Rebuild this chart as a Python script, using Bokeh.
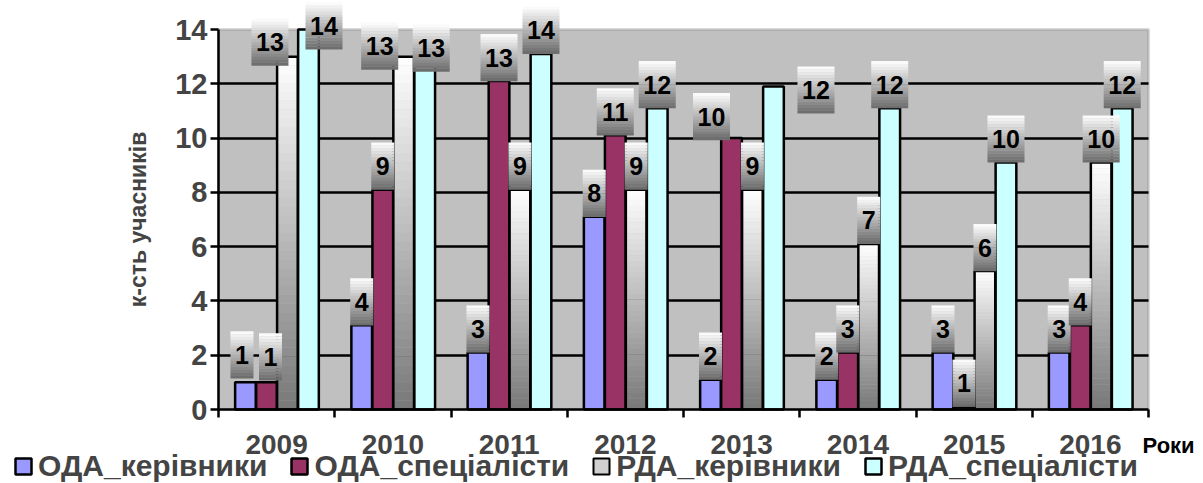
from bokeh.plotting import figure
from bokeh.models import Range1d, FixedTicker, Legend, LegendItem, BoxAnnotation, LinearAxis, Grid
from bokeh.core.properties import value
from bokeh.embed import file_html
from bokeh.resources import INLINE

years = ["2009", "2010", "2011", "2012", "2013", "2014", "2015", "2016"]
# bar heights as drawn
oda_kerivnyky = [1.0, 3.1, 2.1, 7.1, 1.1, 1.1, 2.1, 2.1]
oda_specialisty = [1.0, 8.1, 12.1, 10.1, 10.0, 2.1, 0.1, 3.1]
rda_kerivnyky = [13.0, 13.0, 8.1, 8.1, 8.1, 6.1, 5.1, 9.1]
rda_specialisty = [14.0, 13.0, 13.1, 11.1, 11.9, 11.1, 9.1, 11.1]
# data-label texts as shown
oda_kerivnyky_labels = [1, 4, 3, 8, 2, 2, 3, 3]
oda_specialisty_labels = [1, 9, 13, 11, 10, 3, 1, 4]
rda_kerivnyky_labels = [13, 13, 9, 9, 9, 7, 6, 10]
rda_specialisty_labels = [14, 13, 14, 12, 12, 12, 10, 12]
series_names = ["ОДА_керівники", "ОДА_спеціалісти", "РДА_керівники", "РДА_спеціалісти"]
y_ticks = [0, 2, 4, 6, 8, 10, 12, 14]
x_title = "Роки"
y_title = "к-сть учасників"

FONT = "Liberation Sans"
W, H = 1203, 483
n = len(years)
Y_MAX = y_ticks[-1]

# layout in canvas pixels
PX_LEFT, PX_RIGHT = 218, 1148      # x of category edges -0.5 and n-0.5
PX_TOP14, PX_ZERO = 29, 409        # y of Y_MAX and 0
PPX = (PX_RIGHT - PX_LEFT) / n
PPU = (PX_ZERO - PX_TOP14) / Y_MAX
x_start = -0.5 - PX_LEFT / PPX
x_end = n - 0.5 + (W - PX_RIGHT) / PPX
y_start = -(H - PX_ZERO) / PPU
y_end = Y_MAX + PX_TOP14 / PPU

series = [oda_kerivnyky, oda_specialisty, rda_kerivnyky, rda_specialisty]
series_labels = [oda_kerivnyky_labels, oda_specialisty_labels, rda_kerivnyky_labels, rda_specialisty_labels]
colors = ["#9999FF", "#993366", None, "#CCFFFF"]
offsets = [-0.268, -0.087, 0.093, 0.274]
BW = 0.178
# hand-moved data labels in the original: (series, year index) -> (dx, dy) screen px
label_shift = {(0, 0): (-3.5, -4), (1, 0): (4, -2), (2, 0): (-17.5, 9), (3, 0): (15.5, 20),
               (2, 1): (-24, 13), (3, 1): (6.5, 15), (1, 4): (-20, 2), (3, 4): (42.5, 27)}

p = figure(width=W, height=H, output_backend="svg", toolbar_location=None,
           x_range=Range1d(x_start, x_end), y_range=Range1d(y_start, y_end),
           min_border=0, x_axis_type=None, y_axis_type=None)
p.outline_line_color = None
p.background_fill_color = "white"
p.border_fill_color = "white"

# gray plot area
p.add_layout(BoxAnnotation(left=-0.5, right=n - 0.5, bottom=0, top=Y_MAX,
                           fill_color="#C0C0C0", fill_alpha=1,
                           line_color="#858585", line_width=3, level="image"))

# grid
gt = [t for t in y_ticks if 0 < t < Y_MAX]
if "cross_bounds" in Grid.properties():
    grid = Grid(dimension=1, ticker=FixedTicker(ticks=gt),
                grid_line_color="black", grid_line_width=2.5, cross_bounds=(-0.5, n - 0.5))
    p.add_layout(grid)
else:
    p.segment(x0=[-0.5] * len(gt), x1=[n - 0.5] * len(gt), y0=gt, y1=gt,
              line_color="black", line_width=2.5, level="underlay")

# axes
yax = LinearAxis(ticker=FixedTicker(ticks=y_ticks), bounds=(0, Y_MAX), fixed_location=-0.5)
yax.axis_label = y_title
yax.axis_label_text_font = FONT
yax.axis_label_text_font_size = "23px"
yax.axis_label_text_font_style = "bold"
yax.axis_label_standoff = 21
yax.major_label_text_font = FONT
yax.major_label_text_font_size = "29px"
yax.major_label_text_font_style = "bold"
yax.major_label_standoff = 3
yax.major_tick_out = 8
yax.major_tick_in = 0
yax.major_tick_line_width = 2.5
yax.minor_tick_line_color = None
yax.axis_line_width = 2.5
p.add_layout(yax, "left")

xax = LinearAxis(ticker=FixedTicker(ticks=list(range(n)),
                                    minor_ticks=[i - 0.5 for i in range(n + 1)]),
                 bounds=(-0.5, n - 0.5), fixed_location=0)
xax.major_label_overrides = {i: years[i] for i in range(n)}
xax.major_label_text_font = FONT
xax.major_label_text_font_size = "28px"
xax.major_label_text_font_style = "bold"
xax.major_label_standoff = 17
xax.major_tick_out = 0
xax.major_tick_in = 0
xax.minor_tick_out = 8
xax.minor_tick_in = 0
xax.minor_tick_line_width = 2.5
xax.axis_line_width = 2.5
p.add_layout(xax, "below")

# bars
legend_renderers = []
NS = 40
for s, vals in enumerate(series):
    xs = [i + offsets[s] for i in range(n)]
    if colors[s] is not None:
        r = p.vbar(x=xs, top=vals, width=BW, fill_color=colors[s], line_color="black", line_width=2.5)
        legend_renderers.append(r)
    else:
        L, R, B, T, C = [], [], [], [], []
        for i, v in enumerate(vals):
            for k in range(NS):
                f = (k + 0.5) / NS  # 0 bottom -> 1 top
                g = int(round(120 + (255 - 120) * f))
                L.append(xs[i] - BW / 2); R.append(xs[i] + BW / 2)
                B.append(v * k / NS); T.append(v * (k + 1) / NS + 0.01 * (k < NS - 1))
                C.append("#%02x%02x%02x" % (g, g, g))
        p.quad(left=L, right=R, bottom=B, top=T, fill_color=C, line_color=None)
        p.vbar(x=xs, top=vals, width=BW, fill_alpha=0, line_color="black", line_width=2.5)
        r = p.vbar(x=xs, top=vals, width=BW, fill_color="#D0D0D0", line_color="black", line_width=2,
                   visible=False)
        legend_renderers.append(r)

# label boxes (outside end, hand-moved ones shifted)
BOX_HPX = 47
BOX_H = BOX_HPX / PPU
NB = 16
bx, by, bw, bc = [], [], [], []
tx, ty, tt = [], [], []
for s, vals in enumerate(series):
    for i, v in enumerate(vals):
        txt = str(series_labels[s][i])
        dx, dy = label_shift.get((s, i), (0, 0))
        x = i + offsets[s] + dx / PPX
        bottom = v - dy / PPU
        yc = bottom + BOX_H / 2
        wpx = 9 + 14 * len(txt)
        for k in range(NB):
            f = (k + 0.5) / NB  # 0 top -> 1 bottom
            g = int(round(255 - (255 - 105) * f))
            bx.append(x)
            by.append(yc + BOX_H / 2 - (k + 0.5) * BOX_H / NB)
            bw.append(wpx)
            bc.append("#%02x%02x%02x" % (g, g, g))
        tx.append(x); ty.append(yc); tt.append(txt)
p.rect(x=bx, y=by, width=bw, width_units="screen", height=BOX_H / NB * 1.08,
       fill_color=bc, line_color=None)
p.text(x=tx, y=ty, text=tt, text_align="center", text_baseline="middle",
       text_font=value(FONT), text_font_size="25px", text_font_style="bold", text_color="black")

# x title
p.text(x=[n - 0.5], y=[-36 / PPU], text=[x_title], x_offset=-6, text_align="left",
       text_baseline="middle", text_font=value(FONT), text_font_size="22px",
       text_font_style="bold", text_color="black")

# legend
legend = Legend(items=[LegendItem(label=series_names[s], renderers=[legend_renderers[s]])
                       for s in range(4)],
                orientation="horizontal", location=(13, 0),
                label_text_font=FONT, label_text_font_size="30px", label_text_font_style="bold",
                glyph_width=20, glyph_height=20, label_standoff=5, spacing=22,
                padding=0, margin=0, border_line_color=None, background_fill_alpha=0)
p.add_layout(legend)

open("out.html", "w").write(file_html(p, INLINE))
